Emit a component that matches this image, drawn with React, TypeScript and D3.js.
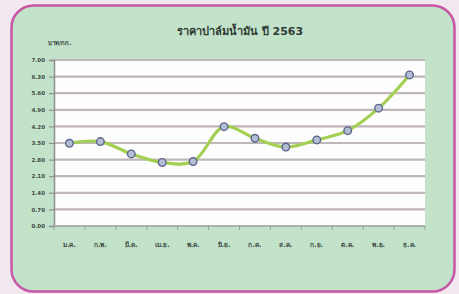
import { useEffect, useRef } from "react";
import * as d3 from "d3";

const title = "ราคาปาล์มน้ำมัน ปี 2563";
const unitLabel = "บาท/กก.";
const months = ["ม.ค.", "ก.พ.", "มี.ค.", "เม.ย.", "พ.ค.", "มิ.ย.", "ก.ค.", "ส.ค.", "ก.ย.", "ต.ค.", "พ.ย.", "ธ.ค."];
const prices = [3.49, 3.56, 3.04, 2.68, 2.72, 4.19, 3.70, 3.33, 3.63, 4.02, 4.97, 6.37];
const yTicks = [0, 0.7, 1.4, 2.1, 2.8, 3.5, 4.2, 4.9, 5.6, 6.3, 7.0];

const W = 459;
const H = 294;
const plot = { left: 54, right: 425, top: 60, bottom: 226 };

export default function App() {
  const ref = useRef<SVGSVGElement>(null);

  useEffect(() => {
    const svg = d3.select(ref.current);
    svg.selectAll("*").remove();

    // page + panel
    svg.append("rect").attr("width", W).attr("height", H).attr("fill", "#f2e8ef");
    svg.append("rect")
      .attr("x", 11.5).attr("y", 5.5).attr("width", 443).attr("height", 286)
      .attr("rx", 22).attr("ry", 22)
      .attr("fill", "#c2e3ca").attr("stroke", "#c756a6").attr("stroke-width", 2.5);

    const x = d3.scaleBand().domain(months).range([plot.left, plot.right]);
    const y = d3.scaleLinear().domain([0, 7]).range([plot.bottom, plot.top]);

    // plot area
    svg.append("rect")
      .attr("x", plot.left).attr("y", plot.top)
      .attr("width", plot.right - plot.left).attr("height", plot.bottom - plot.top)
      .attr("fill", "#fdfdfd");

    // grid lines
    svg.append("g").selectAll("line").data(yTicks.slice(1)).enter().append("line")
      .attr("x1", plot.left).attr("x2", plot.right)
      .attr("y1", (d) => y(d)).attr("y2", (d) => y(d))
      .attr("stroke", "#bfb6b8").attr("stroke-width", 2.2);

    // y axis
    const yAxis = d3.axisLeft(y).tickValues(yTicks).tickSize(5).tickFormat((d) => (+d).toFixed(2));
    const gy = svg.append("g").attr("transform", `translate(${plot.left},0)`).call(yAxis);
    gy.select(".domain").attr("stroke", "#8e8e8e").attr("stroke-width", 1.5);
    gy.selectAll(".tick line").attr("stroke", "#8e8e8e").attr("stroke-width", 1.2);
    gy.selectAll(".tick text")
      .attr("x", -9).attr("fill", "#3e4a44")
      .style("font-family", "DejaVu Sans, sans-serif").style("font-size", "5.5px").style("font-weight", "bold");

    // x axis
    const gx = svg.append("g").attr("transform", `translate(0,${plot.bottom})`);
    gx.append("line").attr("x1", plot.left).attr("x2", plot.right)
      .attr("stroke", "#9a9a9a").attr("stroke-width", 1.5);
    gx.selectAll(".xt").data([...months.map((m) => x(m)!), plot.right]).enter().append("line")
      .attr("x1", (d) => d).attr("x2", (d) => d).attr("y1", 0).attr("y2", 4)
      .attr("stroke", "#9a9a9a").attr("stroke-width", 1);
    gx.selectAll("text").data(months).enter().append("text")
      .attr("x", (d) => x(d)! + x.bandwidth() / 2).attr("y", 21)
      .attr("text-anchor", "middle").attr("fill", "#3e4a44")
      .style("font-family", "DejaVu Sans, sans-serif").style("font-size", "6.5px").style("font-weight", "bold")
      .text((d) => d);

    // line
    const line = d3.line<number>()
      .x((_, i) => x(months[i])! + x.bandwidth() / 2)
      .y((d) => y(d))
      .curve(d3.curveCatmullRom.alpha(0.5));
    svg.append("path").datum(prices).attr("d", line)
      .attr("fill", "none").attr("stroke", "#a3cf52").attr("stroke-width", 3.2);

    svg.selectAll(".pt").data(prices).enter().append("circle")
      .attr("cx", (_, i) => x(months[i])! + x.bandwidth() / 2)
      .attr("cy", (d) => y(d)).attr("r", 3.8)
      .attr("fill", "#b4bdd6").attr("stroke", "#5c6689").attr("stroke-width", 1.4);

    // titles
    svg.append("text").attr("x", 240).attr("y", 35).attr("text-anchor", "middle")
      .attr("fill", "#2e3a34")
      .style("font-family", "DejaVu Sans, sans-serif").style("font-size", "11px").style("font-weight", "bold")
      .text(title);
    svg.append("text").attr("x", 48).attr("y", 45).attr("fill", "#2e3a34")
      .style("font-family", "DejaVu Sans, sans-serif").style("font-size", "6px").style("font-weight", "bold")
      .text(unitLabel);
  }, []);

  return <svg ref={ref} width={W} height={H} style={{ position: "absolute", left: 0, top: 0 }} />;
}
